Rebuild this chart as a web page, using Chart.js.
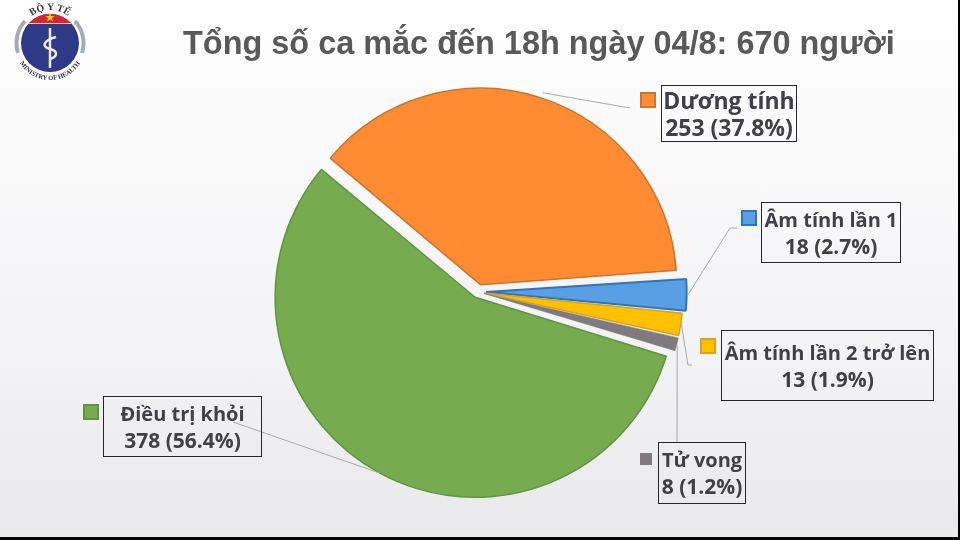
<!DOCTYPE html>
<html lang="vi">
<head>
<meta charset="utf-8">
<title>Tổng số ca mắc</title>
<script src="https://cdn.jsdelivr.net/npm/chart.js@4"></script>
<style>
  html, body { margin: 0; padding: 0; }
  body { width: 960px; height: 540px; overflow: hidden; background: #000; position: relative; }
  #page {
    position: absolute; left: 0; top: 0; width: 958px; height: 537px; overflow: hidden;
    background: linear-gradient(180deg, #ffffff 0%, #fbfbfc 20%, #f3f2f4 65%, #e9e8ea 100%);
  }
  #chartBox { position: absolute; left: 0; top: 0; width: 960px; height: 540px; }
  #title {
    position: absolute; left: 183px; top: 25px; white-space: nowrap;
    font: bold 32.45px "Liberation Sans", Arial, sans-serif; color: #595959;
  }
  .label {
    position: absolute; box-sizing: border-box; border: 1.5px solid #26262b; text-align: center;
    font: bold 20px/27px "Open Sans", sans-serif; color: #404046; white-space: nowrap;
    display: flex; flex-direction: column; justify-content: center;
  }
  .label .val { font-size: 21px; }
  .label.big span { font-size: 23px; line-height: 27px; }
  .marker { position: absolute; box-sizing: border-box; border: 2px solid; }
  #logo { position: absolute; left: 8px; top: 1px; }
</style>
</head>
<body>
<div id="page">
  <canvas id="chartBox" width="960" height="540"></canvas>

  <svg id="logo" width="84" height="84" viewBox="0 0 84 84">
    <defs>
      <path id="topArc" d="M11 40 A 31 31 0 0 1 73 40"/>
      <path id="botArc" d="M7 44 A 35 35 0 0 0 77 44"/>
    </defs>
    <path d="M10 52 A 33 33 0 0 1 17 20" fill="none" stroke="#a4abb8" stroke-width="4"/>
    <path d="M74 52 A 33 33 0 0 0 67 20" fill="none" stroke="#a4abb8" stroke-width="4"/>
    <circle cx="42" cy="42" r="29" fill="#2e3a86"/>
    <path d="M21 22 A 29 29 0 0 1 63 22 Z" fill="#d9232e"/>
    <path d="M21 22.5 H63" stroke="#f1c7c0" stroke-width="1.2"/>
    <polygon points="42,11.5 43.2,15 46.8,15 43.9,17.2 45,20.6 42,18.5 39,20.6 40.1,17.2 37.2,15 40.8,15" fill="#f5d020"/>
    <path d="M42 27 V67" stroke="#e8ebf2" stroke-width="2.5"/>
    <path d="M48 36 C 34 40 34 46 42 48 C 50 50 50 55 42 58" fill="none" stroke="#e8ebf2" stroke-width="2.5"/>
    <text font-family="Liberation Serif, serif" font-size="10" font-weight="bold" fill="#3a3a44"><textPath href="#topArc" startOffset="50%" text-anchor="middle">BỘ Y TẾ</textPath></text>
    <text font-family="Liberation Serif, serif" font-size="6.5" font-weight="bold" fill="#2e2e38"><textPath href="#botArc" startOffset="50%" text-anchor="middle">MINISTRY OF HEALTH</textPath></text>
  </svg>

  <div id="title">Tổng số ca mắc đến 18h ngày 04/8: 670 người</div>
  <div id="labels"></div>
</div>

<script>
const categories = ["Dương tính", "Âm tính lần 1", "Âm tính lần 2 trở lên", "Tử vong", "Điều trị khỏi"];
const values = [253, 18, 13, 8, 378];
const valueLabels = ["253 (37.8%)", "18 (2.7%)", "13 (1.9%)", "8 (1.2%)", "378 (56.4%)"];
const fillColors = ["#ff8b33", "#5a9fe4", "#ffc000", "#7f7a7e", "#76ab50"];
const edgeColors = ["#c9742f", "#2f75b8", "#d8a41e", "#7f7a7e", "#5f9540"];
// Chart.js moves a slice by a quarter of its offset
const sliceOffsets = [31, 32, 24, 24, 24];

// box: left, top, width, height / marker: left, top, size
const boxes = [
  [661, 85, 136, 57],
  [761, 202, 140, 61],
  [721, 330, 213, 71],
  [658, 442, 88, 62],
  [103, 396, 159, 61]
];
const markers = [
  [640, 92, 16],
  [741, 210, 16],
  [700, 338, 16],
  [640, 453, 12],
  [83, 404, 16]
];
// where each leader line goes after leaving the slice
const leaders = [
  [[630, 108]],
  [[730, 228], [737, 228]],
  [[688, 365], [692, 365]],
  [[677, 442]],
  [[233, 422]]
];

const labelsEl = document.getElementById("labels");
categories.forEach((name, i) => {
  const b = boxes[i];
  const div = document.createElement("div");
  div.className = i === 0 ? "label big" : "label";
  div.style.cssText = `left:${b[0]}px;top:${b[1]}px;width:${b[2]}px;height:${b[3]}px`;
  div.innerHTML = `<span>${name}</span><span class="val">${valueLabels[i]}</span>`;
  labelsEl.appendChild(div);

  const m = markers[i];
  const box = document.createElement("div");
  box.className = "marker";
  box.style.cssText = `left:${m[0]}px;top:${m[1]}px;width:${m[2]}px;height:${m[2]}px;background:${fillColors[i]};border-color:${edgeColors[i]}`;
  labelsEl.appendChild(box);
});

// leader lines start from the middle of each slice's outer edge
const leaderLines = {
  id: "leaderLines",
  afterDatasetsDraw(chart) {
    const ctx = chart.ctx;
    ctx.save();
    ctx.strokeStyle = "#a9a9ad";
    ctx.lineWidth = 1;
    chart.getDatasetMeta(0).data.forEach((arc, i) => {
      const mid = (arc.startAngle + arc.endAngle) / 2;
      const r = arc.outerRadius + arc.options.offset / 2;
      ctx.beginPath();
      ctx.moveTo(arc.x + Math.cos(mid) * r, arc.y + Math.sin(mid) * r);
      leaders[i].forEach(p => ctx.lineTo(p[0], p[1]));
      ctx.stroke();
    });
    ctx.restore();
  }
};

new Chart(document.getElementById("chartBox"), {
  type: "pie",
  data: {
    labels: categories,
    datasets: [{
      data: values,
      backgroundColor: fillColors,
      borderColor: edgeColors,
      borderWidth: [1.5, 2, 1.5, 0.5, 1.5],
      offset: sliceOffsets
    }]
  },
  options: {
    responsive: false,
    animation: false,
    rotation: -50,
    layout: { padding: { left: 267, right: 271, top: 81, bottom: 37 } },
    plugins: { legend: { display: false }, tooltip: { enabled: false } }
  },
  plugins: [leaderLines]
});
</script>
</body>
</html>
